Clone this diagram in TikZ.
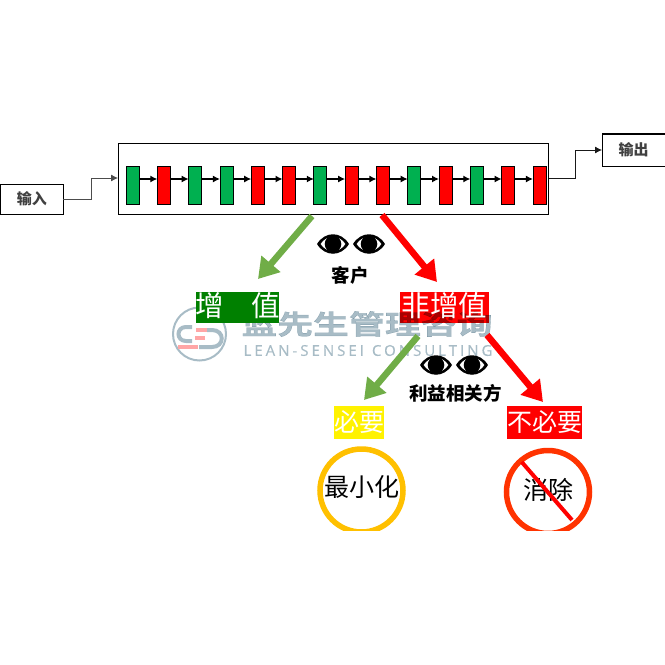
\documentclass[tikz,border=0pt]{standalone}
\usepackage{fontspec}
\setmainfont{Liberation Sans}
\newfontfamily\cjk{Noto Sans CJK SC}
\newfontfamily\wmcjk[FakeStretch=1.33,FakeBold=0.6]{Noto Sans CJK SC Bold}
\newfontfamily\latinw[LetterSpace=20,FakeBold=0.4]{Open Sans}
\usetikzlibrary{arrows.meta,calc}
\definecolor{gbox}{RGB}{0,176,80}
\definecolor{wm}{RGB}{168,188,198}
\definecolor{agreen}{RGB}{112,173,71}
\definecolor{dgreen}{RGB}{0,128,0}
\definecolor{ocircle}{RGB}{255,192,0}
\definecolor{rcircle}{RGB}{255,51,0}
\tikzset{
 x=1pt,y=-1pt,
 every node/.style={outer sep=0pt},
 proc/.style={draw=black,line width=0.8pt,minimum width=13pt,minimum height=38pt,inner sep=0pt,anchor=north west},
 greenp/.style={proc,fill=gbox},
 redp/.style={proc,fill=red},
 flow/.style={draw=black,line width=1.2pt,-{Latex[length=7pt,width=7pt]}},
 elbow/.style={draw=black!70,line width=0.8pt,-{Latex[length=7pt,width=7pt]}},
 io/.style={draw=black,line width=0.8pt,inner sep=0pt,font=\cjk\bfseries\fontsize{15}{15}\selectfont,text=black!75},
 tagbox/.style={inner sep=0pt,anchor=north west},
 bigarrow/.style={line width=6.5pt,-{Triangle[length=20pt,width=24pt]}},
 tag/.style={inner sep=0pt,text=white,font=\cjk\fontsize{25}{25}\selectfont},
 bigtag/.style={inner sep=0pt,text=white,font=\cjk\fontsize{28.5}{28.5}\selectfont},
 ring/.style={circle,line width=5.5pt,inner sep=0pt,minimum size=83pt,font=\cjk\fontsize{25}{25}\selectfont},
 wmtext/.style={text=wm,inner sep=0pt},
 caption/.style={inner sep=0pt,font=\cjk\bfseries\fontsize{18.5}{19}\selectfont}
}
\newcommand{\eyeshape}[2]{%
 \fill[black,even odd rule] (#1-16,#2) .. controls (#1-8,#2-13) and (#1+8,#2-13) .. (#1+16,#2) .. controls (#1+8,#2+13) and (#1-8,#2+13) .. (#1-16,#2)
 (#1-12.5,#2) .. controls (#1-7,#2-9.5) and (#1+7,#2-9.5) .. (#1+12.5,#2) .. controls (#1+7,#2+9.5) and (#1-7,#2+9.5) .. (#1-12.5,#2);
 \fill[black] (#1,#2) circle (8.3);}
\begin{document}
\begin{tikzpicture}
\useasboundingbox (0,0) rectangle (665,665);
\clip (0,0) rectangle (665,530.5) ;
% container and I/O
\node[draw=black,line width=0.8pt,minimum width=430pt,minimum height=71pt,inner sep=0pt,anchor=north west] (line) at (118.5,143) {};
\node[io,minimum width=62.5pt,minimum height=30pt,anchor=north west] (in) at (0.5,184) {\raisebox{-1pt}{输入}};
\node[io,minimum width=63pt,minimum height=32pt,anchor=north west] (out) at (602,134) {\raisebox{-1pt}{输出}};
\draw[black,line width=1.5pt] (out.north west) -- (out.north east);
\coordinate (inA) at (118,178);
\coordinate (outA) at (549,178);
\draw[elbow] (in.east) -- (91,199) -- (91,178) -- (inA);
\draw[elbow,draw=black!90] (outA) -- (575,178) -- (575,150) -- (out.west);
% process boxes
\foreach \i/\s in {0/greenp,1/redp,2/greenp,3/greenp,4/redp,5/redp,6/greenp,7/redp,8/redp,9/greenp,10/redp,11/greenp,12/redp,13/redp}{
  \node[\s] (p\i) at ({126+31.3*\i},166) {};
}
\foreach \a/\b in {0/1,1/2,2/3,3/4,4/5,5/6,6/7,7/8,8/9,9/10,10/11,11/12,12/13}{
  \draw[flow] ([yshift=6pt]p\a.east) -- ([yshift=6pt]p\b.west);
}
% red tag sits under the watermark, green tag over it
\node[tagbox,fill=red,minimum width=89pt,minimum height=31pt] (nva) at (400,292) {};
% watermark
\begin{scope}[blend mode=multiply]
\node[wmtext,font=\wmcjk\fontsize{27}{27}\selectfont,anchor=center] (wm1) at (367,324) {蓝先生管理咨询};
\end{scope}
\node[wmtext,font=\latinw\fontsize{15}{15}\selectfont,anchor=center] (wm2) at (368,350.5) {LEAN-SENSEI\hspace{8pt}CONSULTING};
\draw[wm,line width=2pt] (199.5,334) circle (26.5);
\draw[wm,line width=4pt] (192,327) -- (186,327) .. controls (176,327) and (176,341) .. (186,341) -- (192,341);
\draw[wm,line width=4pt] (207,330) -- (212,330) .. controls (225,330) and (225,347) .. (212,347) -- (199,347);
\fill[red!35] (196,328) rectangle (207,332);
\fill[red!35] (195,336) rectangle (205,340);
\fill[red!35] (178,345) rectangle (198,349);
% tags
\node[tagbox,fill=dgreen,minimum width=83pt,minimum height=31pt] (va) at (196,292) {};
\node[bigtag] (vat) at (237.5,306) {增\hspace{28pt}值};
\node[bigtag] (nvat) at (444.5,306) {非增值};
\node[tag,fill=yellow,minimum width=50pt,minimum height=33pt,anchor=north west] (nec) at (334,406) {\raisebox{-2.5pt}{必要}};
\node[tag,fill=red,minimum width=75pt,minimum height=33pt,anchor=north west] (unn) at (507,406) {\raisebox{-2.5pt}{不必要}};
% arrows
\coordinate (a1) at (312,216); \coordinate (a1t) at (258,279);
\coordinate (a2) at (382,215); \coordinate (a2t) at (437,282);
\coordinate (a3) at (418,336); \coordinate (a3t) at (364,400);
\coordinate (a4) at (487,335); \coordinate (a4t) at (543,402);
\draw[bigarrow,agreen] (a1) -- (a1t);
\draw[bigarrow,red] (a2) -- (a2t);
\draw[bigarrow,agreen] (a3) -- (a3t);
\draw[bigarrow,red] (a4) -- (a4t);
% eyes and captions
\eyeshape{333}{244}\eyeshape{369}{244}
\eyeshape{436}{365}\eyeshape{472}{365}
\node[caption] (c1) at (350,275.5) {客户};
\node[caption] (c2) at (455.5,393) {利益相关方};
% circles
\node[ring,draw=ocircle] (min) at (361.5,490.5) {};
\node[inner sep=0pt,font=\cjk\fontsize{25}{25}\selectfont] (mint) at (362,487) {最小化};
\node[ring,draw=rcircle] (eli) at (548,492) {};
\node[inner sep=0pt,font=\cjk\fontsize{25}{25}\selectfont] (elit) at (548,489.5) {消除};
\coordinate (b1) at (521.7,462); \coordinate (b2) at (572,520);
\draw[red,line width=4pt] (b1) -- (b2);
\end{tikzpicture}
\end{document}
